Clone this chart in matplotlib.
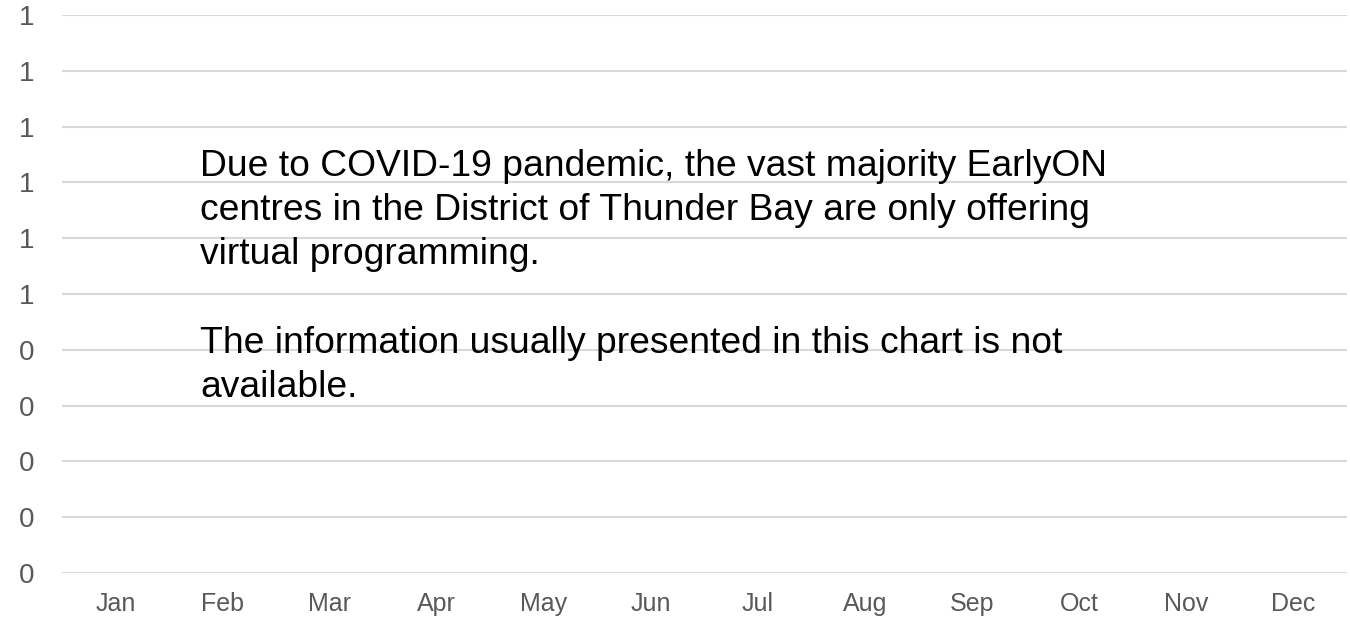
import numpy as np
import matplotlib.pyplot as plt
from matplotlib.ticker import FuncFormatter

months = ['Jan', 'Feb', 'Mar', 'Apr', 'May', 'Jun',
          'Jul', 'Aug', 'Sep', 'Oct', 'Nov', 'Dec']
values = [np.nan] * 12  # no data available this year
y_ticks = [0.0, 0.1, 0.2, 0.3, 0.4, 0.5, 0.6, 0.7, 0.8, 0.9, 1.0]

message = ("Due to COVID-19 pandemic, the vast majority EarlyON\n"
           "centres in the District of Thunder Bay are only offering\n"
           "virtual programming.\n"
           "\n"
           "The information usually presented in this chart is not\n"
           "available.")

plt.rcParams['font.family'] = ['Liberation Sans', 'DejaVu Sans']


def round_label(v, pos):
    # labels are rounded to whole numbers, half goes up
    return str(int(np.floor(v + 0.5 + 1e-9)))


def main():
    fig = plt.figure(figsize=(13.5, 6.21), dpi=100)
    ax = fig.add_axes([62 / 1350, 48 / 621, 1285 / 1350, 558 / 621])

    x = np.arange(len(months))
    ax.plot(x, values)

    ax.set_xlim(-0.5, len(months) - 0.5)
    ax.set_ylim(0, 1)
    ax.set_xticks(x)
    ax.set_xticklabels(months)
    ax.set_yticks(y_ticks)
    ax.yaxis.set_major_formatter(FuncFormatter(round_label))

    ax.grid(axis='y', color='#d9d9d9', linewidth=1.5)
    ax.set_axisbelow(True)
    for s in ax.spines.values():
        s.set_visible(False)
    ax.tick_params(axis='both', length=0, labelcolor='#595959')
    ax.tick_params(axis='y', pad=20, labelsize=20)
    ax.tick_params(axis='x', pad=14, labelsize=18)

    # baseline alignment here refers to the last line ("available.")
    ax.text(0.1075, 0.3154, message, transform=ax.transAxes, fontsize=26.8,
            va='baseline', ha='left', color='black', linespacing=1.34)

    fig.savefig('out.png', dpi=100)


if __name__ == '__main__':
    main()
